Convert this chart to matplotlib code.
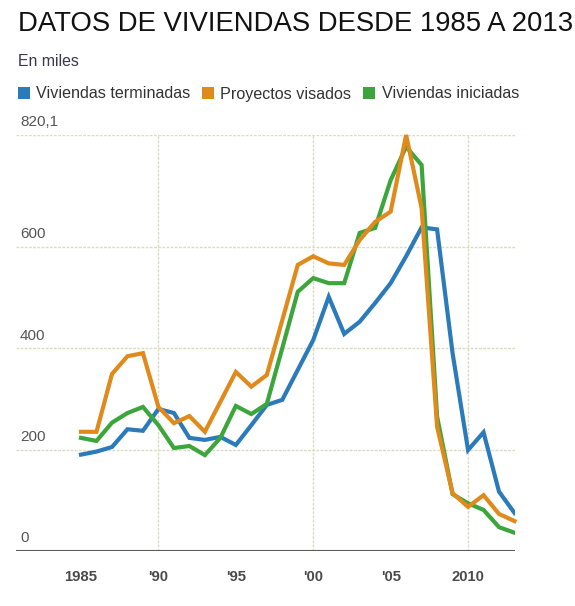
import matplotlib
matplotlib.use("Agg")
import matplotlib.pyplot as plt
from matplotlib.patches import Patch
from matplotlib.transforms import blended_transform_factory

plt.rcParams['font.family'] = ['Liberation Sans', 'DejaVu Sans']

# valores en miles, 1985-2013
years = list(range(1985, 2014))
terminadas = [190, 196, 205, 240, 237, 280, 272, 223, 219, 225, 209, 248, 288, 298, 357,
              416, 501, 428, 452, 489, 528, 581, 638, 634, 390, 199, 234, 117, 75]
visados = [235, 235, 349, 384, 390, 284, 252, 266, 235, 294, 353, 324, 347, 455, 564,
           581, 567, 564, 613, 649, 669, 820.1, 676, 245, 114, 87, 110, 73, 59]
iniciadas = [223, 217, 253, 272, 284, 248, 203, 207, 189, 223, 286, 270, 290, 400, 511,
             538, 528, 528, 627, 637, 731, 797, 761, 265, 112, 94, 81, 47, 36]

series_names = ['Viviendas terminadas', 'Proyectos visados', 'Viviendas iniciadas']
colors = ['#2b7bba', '#e08a1c', '#3ca63c']

y_ticks = [0, 200, 400, 600, 820.1]
y_labels = ['0', '200', '400', '600', '820,1']
x_ticks = [1985, 1990, 1995, 2000, 2005, 2010]
x_labels = ['1985', "'90", "'95", "'00", "'05", '2010']
x_grid = [1990, 2000, 2010]

fig = plt.figure(figsize=(5.75, 6.06), dpi=100)
ax = fig.add_axes([16 / 575, 1 - 551 / 606, (514.5 - 16) / 575, (551 - 135) / 606])

grid_col = '#dcdcc0'
for v in y_ticks[1:]:
    ax.axhline(v, color=grid_col, lw=1, ls=(0, (2, 1)), zorder=1)
for v in x_grid:
    ax.axvline(v, color=grid_col, lw=1, ls=(0, (2, 1)), zorder=1)
ax.axhline(0, color='#5a5a5a', lw=1.5, zorder=2)

# orden de dibujo: azul, verde, naranja encima
ax.plot(years, terminadas, color=colors[0], lw=3, zorder=3, solid_joinstyle='miter')
ax.plot(years, iniciadas, color=colors[2], lw=3, zorder=4, solid_joinstyle='miter')
ax.plot(years, visados, color=colors[1], lw=3, zorder=5, solid_joinstyle='miter', clip_on=False)

ax.set_xlim(1980.8, 2013)
ax.set_ylim(0, 820.1)
for s in ax.spines.values():
    s.set_visible(False)
ax.set_yticks([])
ax.set_xticks(x_ticks)
ax.set_xticklabels(x_labels, fontsize=10.7, fontweight='bold', color='#4a4a4a')
ax.tick_params(axis='x', length=0, pad=14)

trans = blended_transform_factory(ax.transAxes, ax.transData)
for v, lab in zip(y_ticks, y_labels):
    ax.text(0.008, v + 11, lab, transform=trans, fontsize=11, color='#555555',
            ha='left', va='bottom')

# el titulo original queda cortado por la derecha
fig.text(18 / 575, 1 - 31 / 606, 'DATOS DE VIVIENDAS DESDE 1985 A 2013', fontsize=19.8,
         color='#111111', ha='left', va='baseline')
fig.text(18 / 575, 1 - 62 / 606, 'En miles', fontsize=11.4, color='#3c3550',
         ha='left', va='center')

handles = [Patch(facecolor=c, edgecolor='none') for c in colors]
fig.legend(handles, series_names, loc='center left', bbox_to_anchor=(3 / 575, 1 - 94 / 606),
           ncol=3, frameon=False, handlelength=0.75, handleheight=0.75, handletextpad=0.38,
           columnspacing=0.75, prop={'size': 11.6}, labelcolor='#333333')

fig.savefig('out.png', dpi=100)
